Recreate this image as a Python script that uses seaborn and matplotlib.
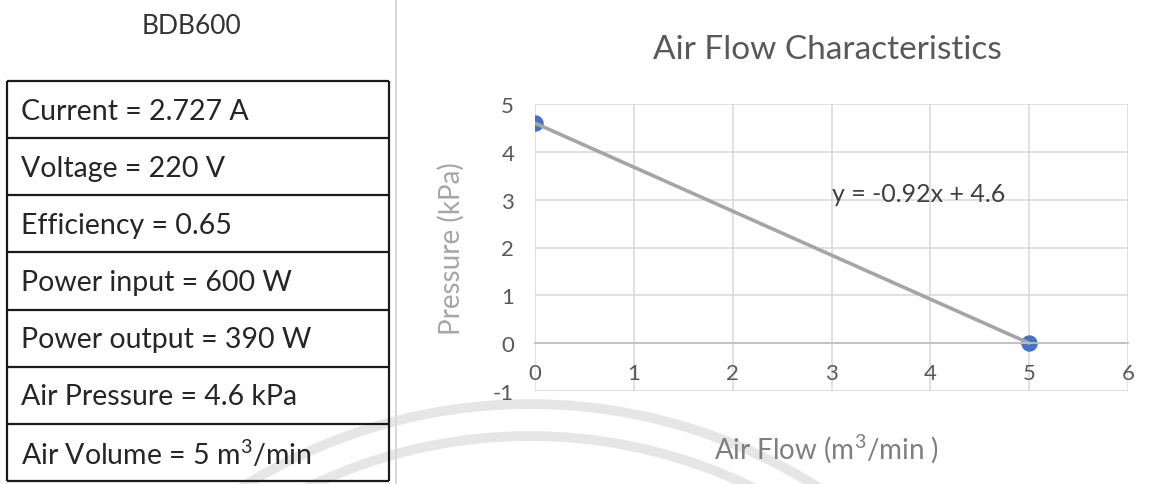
"""BDB600 blower: spec table + air flow characteristic (pressure vs. flow)."""

import matplotlib as mpl
import matplotlib.pyplot as plt
import numpy as np
import seaborn as sns
from matplotlib.lines import Line2D
from matplotlib.patches import Arc

sns.set_theme(style="white")
mpl.rcParams.update(
    {
        "font.family": ["Lato", "DejaVu Sans"],
        "mathtext.fontset": "custom",
        "mathtext.rm": "Lato",
        "mathtext.it": "Lato",
        "axes.unicode_minus": False,
    }
)

# ---- data ----
model_name = "BDB600"
spec_rows = [
    "Current = 2.727 A",
    "Voltage = 220 V",
    "Efficiency = 0.65",
    "Power input = 600 W",
    "Power output = 390 W",
    "Air Pressure = 4.6 kPa",
    "Air Volume = 5 m$^3$/min",
]
air_flow = [0, 5]          # m3/min
pressure = [4.6, 0]        # kPa
x_ticks = [0, 1, 2, 3, 4, 5, 6]
y_ticks = [-1, 0, 1, 2, 3, 4, 5]

W, H = 1163, 485
fig = plt.figure(figsize=(W / 100, H / 100), dpi=100)

# background layer in pixel coordinates (table, divider, watermark)
bg = fig.add_axes([0, 0, 1, 1])
bg.set_xlim(0, W)
bg.set_ylim(H, 0)
bg.axis("off")

# faint watermark arcs
for r in (540, 508):
    bg.add_patch(Arc((530, 945), 2 * r, 2 * r, theta1=180, theta2=360,
                     color="#e6e6e6", lw=7, zorder=0))

# vertical divider
bg.add_line(Line2D([396, 396], [0, H], color="#d9d9d9", lw=1.5, zorder=1))

# spec table
bg.text(192, 27, model_name, ha="center", va="center", fontsize=19, color="#333333")
top, bottom, left, right = 82, 482, 7, 389
row_h = (bottom - top) / len(spec_rows)
for i, label in enumerate(spec_rows):
    y0 = top + i * row_h
    bg.text(left + 14, y0 + row_h / 2 + 1, label, ha="left", va="center",
            fontsize=20.5, color="#262626")
edges = [top + i * row_h for i in range(len(spec_rows) + 1)]
bg.hlines(edges, left, right, color="#1a1a1a", lw=1.6)
bg.vlines([left, right], top, bottom, color="#1a1a1a", lw=1.6)

# ---- chart ----
ax = fig.add_axes([535 / W, 1 - 392 / H, 593 / W, 287 / H])
ax.patch.set_alpha(0)
sns.regplot(
    x=air_flow,
    y=pressure,
    ax=ax,
    ci=None,
    scatter_kws={"s": 140, "color": "#4472c4", "linewidths": 0, "alpha": 1},
    line_kws={"color": "#a5a5a5", "lw": 2.6},
)
ax.set_xlim(0, 6)
ax.set_ylim(-1, 5)
ax.set_xticks(x_ticks)
ax.set_yticks(y_ticks)
ax.grid(True, color="#d9d9d9", lw=1.1)
ax.set_axisbelow(True)
for s in ("top", "right", "left"):
    ax.spines[s].set_visible(False)
ax.spines["bottom"].set_position(("data", 0))
ax.spines["bottom"].set_color("#bfbfbf")
ax.spines["bottom"].set_linewidth(1.3)
ax.tick_params(axis="x", length=0, pad=14, labelsize=16, labelcolor="#595959")
ax.tick_params(axis="y", length=0, pad=15, labelsize=16, labelcolor="#595959")

slope, intercept = np.polyfit(air_flow, pressure, 1)
ax.text(3.0, 2.97, f"y = {slope:.2f}x + {intercept:.1f}", ha="left", va="baseline",
        fontsize=18, color="#404040")

ax.set_ylabel("Pressure (kPa)", fontsize=20, color="#a6a6a6")
ax.yaxis.set_label_coords(-0.118, 0.5)
ax.set_xlabel("Air Flow (m$^3$/min )", fontsize=20, color="#7f7f7f")
ax.xaxis.set_label_coords(0.491, -0.14)

fig.text(827 / W, 1 - 50 / H, "Air Flow Characteristics", ha="center", va="center",
         fontsize=24, color="#595959")

fig.savefig("out.png", dpi=100, facecolor="white")
